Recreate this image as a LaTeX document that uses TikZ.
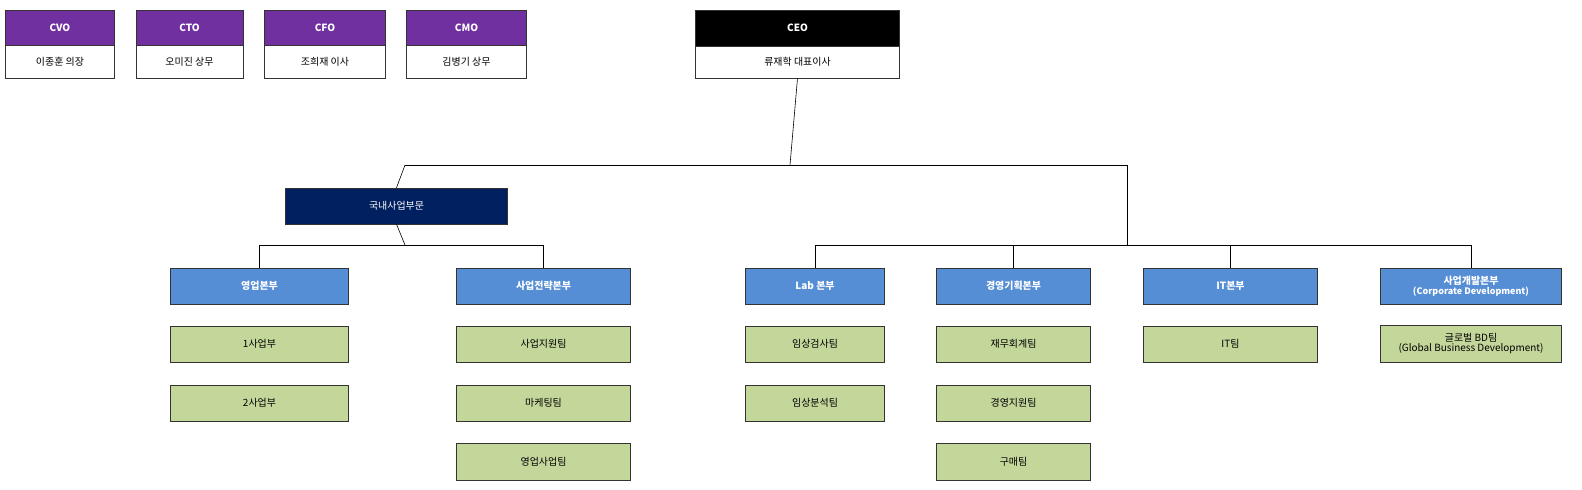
\documentclass[tikz,border=0pt]{standalone}
\usepackage{fontspec}
\setmainfont{Noto Sans CJK KR}
\begin{document}
\begin{tikzpicture}[x=1bp,y=-1bp,
 b/.style={draw=black!80,line width=0.6bp,inner sep=0pt,font=\fontsize{10}{12}\selectfont,align=center},
 hp/.style={b,fill=purple2,text=white,font=\fontsize{10}{12}\selectfont\bfseries},
 hb/.style={b,fill=blue2,text=white,font=\fontsize{10}{12}\selectfont\bfseries},
 g/.style={b,fill=green2},
 w/.style={b,fill=white},
 ln/.style={line width=0.6bp,black}]
\definecolor{purple2}{HTML}{7030A0}
\definecolor{blue2}{HTML}{558ED5}
\definecolor{green2}{HTML}{C4D79B}
\definecolor{navy2}{HTML}{002060}
\useasboundingbox (0,0) rectangle (1582,490);
\newcommand\bxx[8]{\node[#6,minimum width={#4-#2},minimum height={#5-#3}] (#1) at ({(#2+#4)/2},{(#3+#5)/2}) {#7#8};}
% top executives
\bxx{cvo}{5}{10}{115}{45}{hp}{}{CVO}
\bxx{cvon}{5}{45}{115}{78}{w}{}{이종훈 의장}
\bxx{cto}{136}{10}{243}{45}{hp}{}{CTO}
\bxx{cton}{136}{45}{243}{78}{w}{}{오미진 상무}
\bxx{cfo}{264}{10}{386}{45}{hp}{}{CFO}
\bxx{cfon}{264}{45}{386}{78}{w}{}{조희재 이사}
\bxx{cmo}{406}{10}{527}{45}{hp}{}{CMO}
\bxx{cmon}{406}{45}{527}{78}{w}{}{김병기 상무}
\bxx{ceo}{695}{10}{900}{46}{hp,fill=black}{}{CEO}
\bxx{ceon}{695}{46}{900}{78}{w}{}{류재학 대표이사}
% division
\bxx{dom}{285}{188}{508}{224}{b,fill=navy2,text=white}{}{국내사업부문}
\bxx{sales}{170}{268}{349}{304}{hb}{}{영업본부}
\bxx{strat}{456}{268}{631}{304}{hb}{}{사업전략본부}
\bxx{lab}{745}{268}{885}{304}{hb}{}{Lab 본부}
\bxx{mgmt}{936}{268}{1091}{304}{hb}{}{경영기획본부}
\bxx{it}{1143}{268}{1318}{304}{hb}{}{IT본부}
\bxx{bd}{1380}{268}{1562}{304}{hb}{}{사업개발본부\\[-2pt]{\fontsize{9}{10}\selectfont(Corporate Development)}}
% teams
\bxx{s1}{170}{326}{349}{362}{g}{}{1사업부}
\bxx{s2}{170}{385}{349}{421}{g}{}{2사업부}
\bxx{t1}{456}{326}{631}{362}{g}{}{사업지원팀}
\bxx{t2}{456}{385}{631}{421}{g}{}{마케팅팀}
\bxx{t3}{456}{443}{631}{480}{g}{}{영업사업팀}
\bxx{l1}{745}{326}{885}{362}{g}{}{임상검사팀}
\bxx{l2}{745}{385}{885}{421}{g}{}{임상분석팀}
\bxx{m1}{936}{326}{1091}{362}{g}{}{재무회계팀}
\bxx{m2}{936}{385}{1091}{421}{g}{}{경영지원팀}
\bxx{m3}{936}{443}{1091}{480}{g}{}{구매팀}
\bxx{i1}{1143}{326}{1318}{362}{g}{}{IT팀}
\bxx{bd1}{1380}{325}{1562}{362}{g}{}{글로벌 BD팀\\[-2pt](Global Business Development)}
% connectors
\coordinate (j1) at (790,165);
\coordinate (jl) at (405,165);
\coordinate (jr) at (1127,165);
\coordinate (jr2) at (1127,245);
\draw[ln] (ceon.south) -- (j1);
\draw[ln] (jl) -- (jr);
\draw[ln] (jl) -- (dom.north);
\draw[ln] (jr) -- (jr2);
\draw[ln] (dom.south) -- (405,245);
\draw[ln] (sales.north) |- (strat.north |- 0,245) -- (strat.north);
\draw[ln] (lab.north) |- (bd.north |- 0,245) -- (bd.north);
\draw[ln] (mgmt.north) -- (mgmt.north |- 0,245);
\draw[ln] (it.north) -- (it.north |- 0,245);
\end{tikzpicture}
\end{document}
